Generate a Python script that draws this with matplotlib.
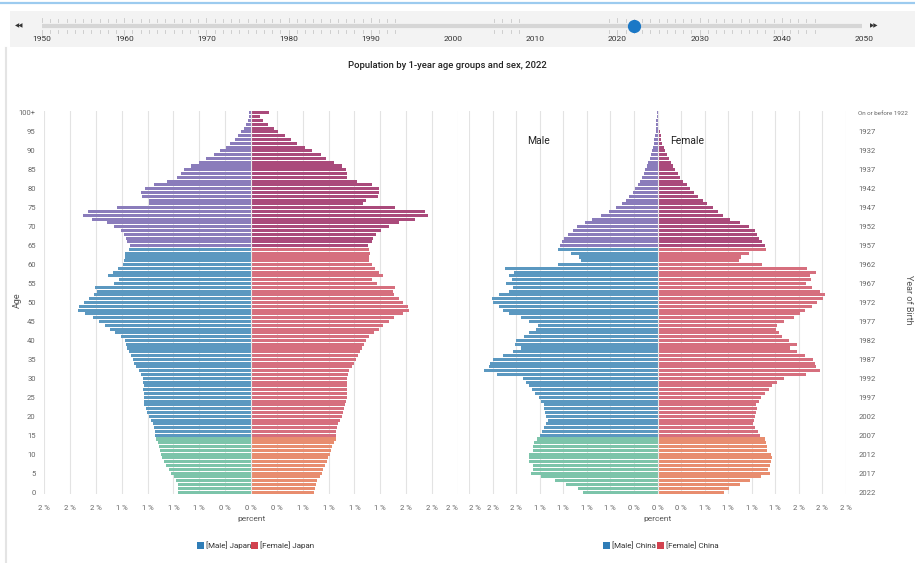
import matplotlib
matplotlib.use("Agg")
import matplotlib.pyplot as plt
from matplotlib.patches import Rectangle
from matplotlib.lines import Line2D

plt.rcParams['font.family'] = ['Roboto', 'DejaVu Sans']

# ---------------- data ----------------
ages = list(range(101))
age_tick_pos = list(range(0, 101, 5))
age_tick_labels = [str(a) for a in range(0, 100, 5)] + ['100+']
birth_tick_labels = [str(2022 - a) for a in range(0, 100, 5)] + ['On or before 1922']

japan_male = [0.707, 0.707, 0.707, 0.723, 0.748, 0.777, 0.794, 0.826, 0.845, 0.858,
              0.868, 0.877, 0.890, 0.900, 0.916, 0.923, 0.926, 0.939, 0.948, 0.971,
              0.987, 1.006, 1.019, 1.029, 1.032, 1.036, 1.036, 1.039, 1.036, 1.039,
              1.045, 1.061, 1.084, 1.110, 1.126, 1.142, 1.158, 1.181, 1.200, 1.207,
              1.216, 1.255, 1.310, 1.361, 1.413, 1.465, 1.523, 1.600, 1.668, 1.665,
              1.616, 1.561, 1.513, 1.490, 1.503, 1.319, 1.271, 1.384, 1.329, 1.281,
              1.239, 1.223, 1.219, 1.213, 1.181, 1.165, 1.197, 1.207, 1.223, 1.255,
              1.319, 1.394, 1.536, 1.623, 1.578, 1.297, 0.981, 0.990, 1.052, 1.058,
              1.026, 0.942, 0.810, 0.716, 0.674, 0.645, 0.584, 0.503, 0.432, 0.361,
              0.300, 0.245, 0.200, 0.158, 0.126, 0.094, 0.071, 0.045, 0.029, 0.019,
              0.023]
japan_female = [0.613, 0.619, 0.626, 0.642, 0.665, 0.684, 0.700, 0.716, 0.736, 0.748,
                0.761, 0.774, 0.787, 0.803, 0.819, 0.826, 0.826, 0.829, 0.842, 0.858,
                0.877, 0.890, 0.900, 0.910, 0.916, 0.923, 0.926, 0.932, 0.929, 0.932,
                0.932, 0.939, 0.948, 0.974, 0.997, 1.013, 1.029, 1.052, 1.077, 1.094,
                1.110, 1.142, 1.184, 1.232, 1.277, 1.329, 1.384, 1.465, 1.523, 1.513,
                1.471, 1.426, 1.384, 1.368, 1.394, 1.213, 1.168, 1.277, 1.239, 1.200,
                1.165, 1.142, 1.142, 1.148, 1.142, 1.126, 1.168, 1.174, 1.207, 1.255,
                1.336, 1.426, 1.584, 1.707, 1.681, 1.394, 1.084, 1.110, 1.223, 1.239,
                1.239, 1.165, 1.023, 0.926, 0.923, 0.916, 0.877, 0.803, 0.729, 0.674,
                0.594, 0.519, 0.442, 0.384, 0.326, 0.265, 0.219, 0.161, 0.116, 0.084,
                0.174]
china_male = [0.792, 0.841, 0.975, 1.087, 1.238, 1.343, 1.325, 1.318, 1.360, 1.367,
              1.360, 1.325, 1.318, 1.308, 1.283, 1.245, 1.227, 1.203, 1.178, 1.167,
              1.178, 1.192, 1.199, 1.203, 1.238, 1.262, 1.297, 1.332, 1.360, 1.395,
              1.430, 1.704, 1.844, 1.788, 1.781, 1.746, 1.641, 1.536, 1.448, 1.508,
              1.501, 1.413, 1.360, 1.290, 1.273, 1.360, 1.448, 1.571, 1.641, 1.683,
              1.746, 1.753, 1.683, 1.578, 1.529, 1.606, 1.543, 1.571, 1.518, 1.623,
              1.060, 0.810, 0.830, 0.920, 1.060, 1.030, 1.010, 0.990, 0.950, 0.900,
              0.850, 0.770, 0.700, 0.600, 0.510, 0.440, 0.380, 0.330, 0.300, 0.265,
              0.235, 0.210, 0.186, 0.165, 0.147, 0.130, 0.112, 0.098, 0.084, 0.070,
              0.060, 0.049, 0.042, 0.035, 0.028, 0.021, 0.018, 0.014, 0.011, 0.007,
              0.007]
china_female = [0.708, 0.761, 0.877, 0.982, 1.101, 1.192, 1.171, 1.189, 1.199, 1.210,
                1.199, 1.164, 1.157, 1.146, 1.136, 1.087, 1.069, 1.034, 1.017, 1.024,
                1.034, 1.041, 1.052, 1.048, 1.076, 1.101, 1.136, 1.182, 1.217, 1.269,
                1.346, 1.578, 1.725, 1.683, 1.672, 1.648, 1.567, 1.480, 1.409, 1.480,
                1.392, 1.322, 1.287, 1.252, 1.269, 1.339, 1.444, 1.515, 1.567, 1.637,
                1.690, 1.760, 1.778, 1.725, 1.637, 1.578, 1.627, 1.620, 1.683, 1.585,
                1.111, 0.866, 0.884, 0.971, 1.146, 1.136, 1.111, 1.076, 1.052, 1.030,
                0.970, 0.880, 0.770, 0.691, 0.638, 0.585, 0.526, 0.480, 0.428, 0.386,
                0.347, 0.309, 0.273, 0.242, 0.214, 0.189, 0.165, 0.140, 0.119, 0.098,
                0.081, 0.067, 0.053, 0.042, 0.032, 0.025, 0.018, 0.014, 0.011, 0.007,
                0.004]

x_ticks = [-2.0, -1.75, -1.5, -1.25, -1.0, -0.75, -0.5, -0.25, 0.0,
           0.25, 0.5, 0.75, 1.0, 1.25, 1.5, 1.75, 2.0]
slider_years = list(range(1950, 2051, 10))
slider_tick_years = list(range(1950, 1994)) + list(range(2005, 2009)) + list(range(2019, 2045)) + [2050]
current_year = 2022
title = "Population by 1-year age groups and sex, 2022"

# ---------------- style ----------------
M_COL = {'young': '#7cc4aa', 'work': '#5b98c0', 'old': '#8a7cbb'}
F_COL = {'young': '#e88d6f', 'work': '#d66f7e', 'old': '#aa4a7b'}
LEG_M = '#2f7db7'
LEG_F = '#d2424f'
TXT = '#555555'

def grp(a):
    return 'young' if a < 15 else ('work' if a < 65 else 'old')

W, H = 915, 563
fig = plt.figure(figsize=(W / 100, H / 100), dpi=100)

def fx(px):
    return px / W

def fy(py):
    return 1 - py / H

# overlay for decorations (pixel coords)
deco = fig.add_axes([0, 0, 1, 1], zorder=-5)
deco.set_xlim(0, W)
deco.set_ylim(H, 0)
deco.axis('off')
deco.add_line(Line2D([0, W], [3, 3], color='#9ccbef', lw=1.6))
deco.add_patch(Rectangle((10, 11), W - 10, 36, color='#f3f3f3', lw=0))
deco.add_line(Line2D([6, 6], [48, H], color='#e4e4e4', lw=1.5))

# slider
sl = fig.add_axes([fx(42), fy(46), fx(864) - fx(42), fy(12) - fy(46)])
sl.set_xlim(1950, 2050)
sl.set_ylim(0, 1)
sl.axis('off')
sl.plot([1948.8, 2049.8], [0.58, 0.58], color='#d6d6d6', lw=3, solid_capstyle='butt')
for yv in slider_tick_years:
    h = 0.13 if yv % 10 == 0 else 0.08
    sl.plot([yv, yv], [0.70, 0.70 + h], color='#c8c8c8', lw=0.6)
    sl.plot([yv, yv], [0.46 - h, 0.46], color='#c8c8c8', lw=0.6)
for yv in slider_years:
    sl.text(yv, 0.2, str(yv), ha='center', va='center', fontsize=6, color='#333333')
sl.plot([current_year], [0.58], 'o', color='#1b78c6', ms=8.5, clip_on=False)
fig.text(fx(19), fy(26), '\u25c0\u25c0', ha='center', va='center', fontsize=4, color='#333333', family='DejaVu Sans')
fig.text(fx(874), fy(26), '\u25b6\u25b6', ha='center', va='center', fontsize=4, color='#333333', family='DejaVu Sans')

fig.text(fx(447), fy(65), title, ha='center', va='center', fontsize=6.8, color='#222222', weight='medium')

# pyramid axes
top_px, bot_px = 111, 494
panels = [
    (44, 458, japan_male, japan_female, 'Japan', 'left'),
    (469, 846, china_male, china_female, 'China', 'right'),
]

def fmt(v):
    return f"{int(abs(v) + 0.5)} %"

for (l, r, male, female, country, side) in panels:
    ax = fig.add_axes([fx(l), fy(bot_px), fx(r) - fx(l), fy(top_px) - fy(bot_px)])
    mcol = [M_COL[grp(a)] for a in ages]
    fcol = [F_COL[grp(a)] for a in ages]
    ax.barh(ages, [-v for v in male], height=0.8, color=mcol, linewidth=0, zorder=2)
    ax.barh(ages, female, height=0.8, color=fcol, linewidth=0, zorder=2)
    ax.axvline(0, color='#e8e8e8', lw=0.8, zorder=3)
    ax.set_xlim(-2, 2)
    ax.set_ylim(-0.5, 100.5)
    ax.set_xticks(x_ticks)
    labels = ax.set_xticklabels([fmt(v) for v in x_ticks])
    if side == 'left':
        labels[-1].set_ha('right')
    else:
        labels[0].set_ha('left')
    ax.grid(axis='x', color='#e3e3e3', lw=0.8, zorder=0)
    ax.set_axisbelow(True)
    for s in ax.spines.values():
        s.set_visible(False)
    ax.tick_params(axis='both', length=0, labelsize=5.5, labelcolor='#666666')
    ax.tick_params(axis='x', pad=8)
    ax.set_yticks(age_tick_pos)
    if side == 'left':
        ax.set_yticklabels(age_tick_labels)
        ax.tick_params(axis='y', pad=6)
    else:
        ax.yaxis.tick_right()
        ylabs = ax.set_yticklabels(birth_tick_labels)
        ylabs[-1].set_fontsize(4.5)
        ax.tick_params(axis='y', pad=9)
    ax.set_facecolor('none')
    cx = (l + r) / 2
    fig.text(fx(cx), fy(519), 'percent', ha='center', va='center', fontsize=6, color=TXT)
    # legend
    lx = cx - 51
    deco.add_patch(Rectangle((lx - 3.5, 541.5), 7, 7, color=LEG_M, lw=0))
    deco.text(lx + 6, 545, f'[Male] {country}', ha='left', va='center', fontsize=5.8, color='#333333')
    lx2 = cx + 3
    deco.add_patch(Rectangle((lx2 - 3.5, 541.5), 7, 7, color=LEG_F, lw=0))
    deco.text(lx2 + 6, 545, f'[Female] {country}', ha='left', va='center', fontsize=5.8, color='#333333')
    if country == 'China':
        fig.text(fx(539), fy(141), 'Male', ha='center', va='center', fontsize=7.5, color='#222222')
        fig.text(fx(687), fy(141), 'Female', ha='center', va='center', fontsize=7.5, color='#222222')

fig.text(fx(17), fy(300), 'Age', rotation=90, ha='center', va='center', fontsize=6.5, color=TXT)
fig.text(fx(908), fy(300), 'Year of Birth', rotation=-90, ha='center', va='center', fontsize=6.5, color=TXT)

fig.savefig('out.png', dpi=100, facecolor='white')
